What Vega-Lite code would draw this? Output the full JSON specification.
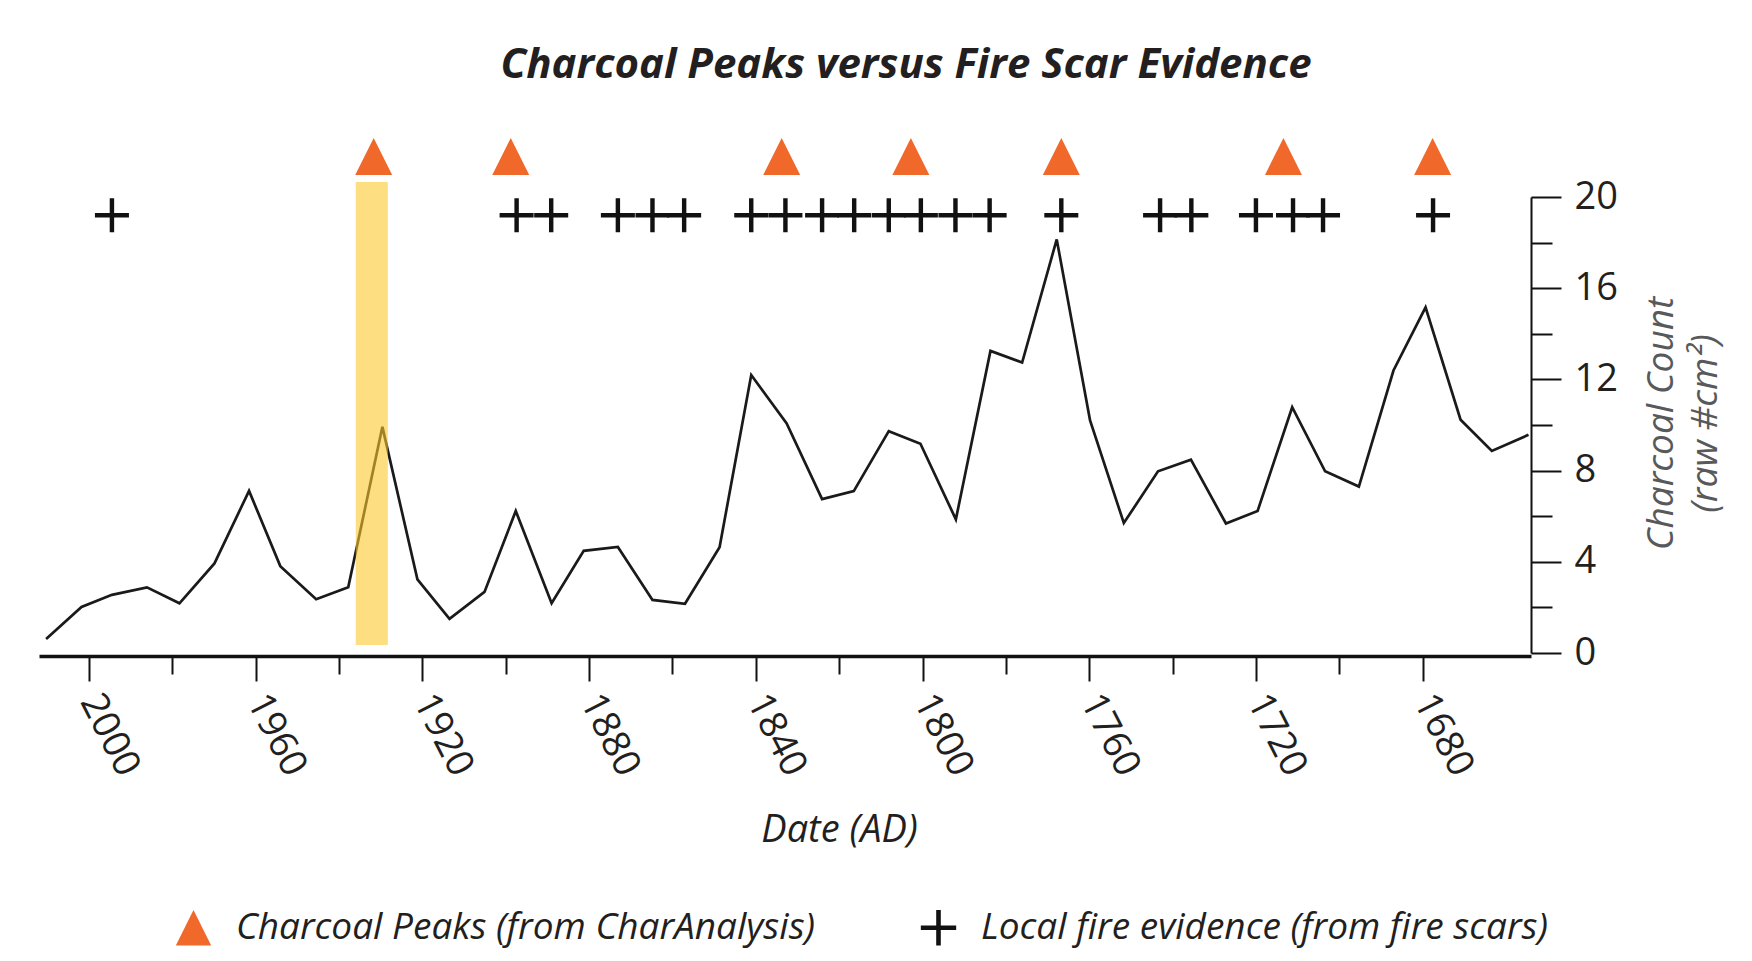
{
  "$schema": "https://vega.github.io/schema/vega-lite/v6.json",
  "width": 1492,
  "height": 456,
  "autosize": {"type": "none"},
  "padding": {"left": 39, "top": 197, "right": 221, "bottom": 308},
  "background": "white",
  "config": {
    "view": {"stroke": null},
    "font": "Open Sans"
  },
  "title": {
    "text": "Charcoal Peaks versus Fire Scar Evidence",
    "font": "Open Sans",
    "fontSize": 42,
    "fontWeight": "bold",
    "fontStyle": "italic",
    "color": "#231F20",
    "anchor": "middle",
    "dx": 121,
    "offset": 51
  },
  "datasets": {
    "series": [
      {"year": 2010.3, "count": 0.61},
      {"year": 2001.8, "count": 2.02},
      {"year": 1994.5, "count": 2.55},
      {"year": 1986.1, "count": 2.88},
      {"year": 1978.3, "count": 2.18},
      {"year": 1969.9, "count": 3.93},
      {"year": 1961.6, "count": 7.11},
      {"year": 1954.1, "count": 3.81},
      {"year": 1945.5, "count": 2.36},
      {"year": 1937.8, "count": 2.88},
      {"year": 1929.6, "count": 9.92},
      {"year": 1921.2, "count": 3.23},
      {"year": 1913.5, "count": 1.5},
      {"year": 1905.1, "count": 2.68},
      {"year": 1897.6, "count": 6.23},
      {"year": 1889.0, "count": 2.18},
      {"year": 1881.3, "count": 4.48},
      {"year": 1873.1, "count": 4.65},
      {"year": 1864.8, "count": 2.33},
      {"year": 1857.0, "count": 2.16},
      {"year": 1848.7, "count": 4.64},
      {"year": 1841.1, "count": 12.19},
      {"year": 1832.6, "count": 10.07},
      {"year": 1824.1, "count": 6.75},
      {"year": 1816.5, "count": 7.1},
      {"year": 1808.1, "count": 9.73},
      {"year": 1800.5, "count": 9.18},
      {"year": 1792.0, "count": 5.86},
      {"year": 1783.7, "count": 13.25},
      {"year": 1776.1, "count": 12.74},
      {"year": 1767.8, "count": 18.14},
      {"year": 1759.8, "count": 10.2},
      {"year": 1751.7, "count": 5.7},
      {"year": 1743.5, "count": 7.97},
      {"year": 1735.6, "count": 8.48},
      {"year": 1727.2, "count": 5.68},
      {"year": 1719.6, "count": 6.23},
      {"year": 1711.3, "count": 10.78},
      {"year": 1703.4, "count": 7.97},
      {"year": 1695.3, "count": 7.3},
      {"year": 1687.0, "count": 12.39},
      {"year": 1679.3, "count": 15.16},
      {"year": 1670.9, "count": 10.23},
      {"year": 1663.4, "count": 8.86},
      {"year": 1654.6, "count": 9.57}
    ],
    "peaks": [
      {"year": 1931.7, "kind": "Charcoal Peaks (from CharAnalysis)"},
      {"year": 1898.8, "kind": "Charcoal Peaks (from CharAnalysis)"},
      {"year": 1833.8, "kind": "Charcoal Peaks (from CharAnalysis)"},
      {"year": 1802.8, "kind": "Charcoal Peaks (from CharAnalysis)"},
      {"year": 1766.7, "kind": "Charcoal Peaks (from CharAnalysis)"},
      {"year": 1713.4, "kind": "Charcoal Peaks (from CharAnalysis)"},
      {"year": 1677.6, "kind": "Charcoal Peaks (from CharAnalysis)"}
    ],
    "scars": [
      {"year": 1994.5, "kind": "Local fire evidence (from fire scars)"},
      {"year": 1897.4, "kind": "Local fire evidence (from fire scars)"},
      {"year": 1889.1, "kind": "Local fire evidence (from fire scars)"},
      {"year": 1873.1, "kind": "Local fire evidence (from fire scars)"},
      {"year": 1864.8, "kind": "Local fire evidence (from fire scars)"},
      {"year": 1857.2, "kind": "Local fire evidence (from fire scars)"},
      {"year": 1841.1, "kind": "Local fire evidence (from fire scars)"},
      {"year": 1832.9, "kind": "Local fire evidence (from fire scars)"},
      {"year": 1824.1, "kind": "Local fire evidence (from fire scars)"},
      {"year": 1816.4, "kind": "Local fire evidence (from fire scars)"},
      {"year": 1808.1, "kind": "Local fire evidence (from fire scars)"},
      {"year": 1800.4, "kind": "Local fire evidence (from fire scars)"},
      {"year": 1792.1, "kind": "Local fire evidence (from fire scars)"},
      {"year": 1783.9, "kind": "Local fire evidence (from fire scars)"},
      {"year": 1766.7, "kind": "Local fire evidence (from fire scars)"},
      {"year": 1743.0, "kind": "Local fire evidence (from fire scars)"},
      {"year": 1735.5, "kind": "Local fire evidence (from fire scars)"},
      {"year": 1720.0, "kind": "Local fire evidence (from fire scars)"},
      {"year": 1711.1, "kind": "Local fire evidence (from fire scars)"},
      {"year": 1703.9, "kind": "Local fire evidence (from fire scars)"},
      {"year": 1677.5, "kind": "Local fire evidence (from fire scars)"}
    ],
    "band": [
      {"start": 1936.0, "end": 1928.3}
    ]
  },
  "layer": [
    {
      "data": {"name": "series"},
      "mark": {"type": "line", "color": "#1a1a1a", "strokeWidth": 2.7, "strokeJoin": "miter"},
      "encoding": {
        "x": {
          "field": "year",
          "type": "quantitative",
          "scale": {"domain": [1654, 2012], "reverse": true, "nice": false, "zero": false},
          "axis": {
            "orient": "bottom",
            "values": [1680, 1700, 1720, 1740, 1760, 1780, 1800, 1820, 1840, 1860, 1880, 1900, 1920, 1940, 1960, 1980, 2000],
            "format": "d",
            "labelExpr": "datum.value % 40 == 0 ? datum.label : ''",
            "grid": false,
            "domainColor": "#111111",
            "domainWidth": 3.5,
            "offset": 3,
            "tickColor": "#111111",
            "tickWidth": 2,
            "tickSize": {"condition": {"test": "datum.value % 40 == 0", "value": 25}, "value": 18},
            "labelFont": "Open Sans",
            "labelFontSize": 38,
            "labelColor": "#231F20",
            "labelAngle": 63,
            "labelAlign": "left",
            "labelBaseline": "middle",
            "labelPadding": 15,
            "labelFlush": false,
            "labelOverlap": false,
            "title": "Date (AD)",
            "titleFont": "Open Sans",
            "titleFontSize": 38,
            "titleFontStyle": "italic",
            "titleFontWeight": "normal",
            "titleColor": "#231F20",
            "titleX": 800,
            "titleY": 174,
            "titleAlign": "center",
            "titleBaseline": "middle"
          }
        },
        "y": {
          "field": "count",
          "type": "quantitative",
          "scale": {"domain": [0, 20], "nice": false, "zero": true},
          "axis": {
            "orient": "right",
            "values": [0, 2, 4, 6, 8, 10, 12, 14, 16, 18, 20],
            "labelExpr": "datum.value % 4 == 0 ? datum.label : ''",
            "grid": false,
            "domainColor": "#111111",
            "domainWidth": 2,
            "tickColor": "#111111",
            "tickWidth": 2,
            "tickSize": {"condition": {"test": "datum.value % 4 == 0", "value": 30}, "value": 21},
            "labelFont": "Open Sans",
            "labelFontSize": 38,
            "labelColor": "#231F20",
            "labelPadding": 13,
            "labelFlush": false,
            "labelOverlap": false,
            "title": ["Charcoal Count", "(raw #cm²)"],
            "titleFont": "Open Sans",
            "titleFontSize": 37,
            "titleFontStyle": "italic",
            "titleFontWeight": "normal",
            "titleColor": "#58595B",
            "titleAngle": 270,
            "titleX": 130,
            "titleY": 226,
            "titleAlign": "center",
            "titleBaseline": "middle",
            "titleLineHeight": 44
          }
        }
      }
    },
    {
      "data": {"name": "band"},
      "mark": {"type": "rect", "color": "#FCCA2F", "opacity": 0.6},
      "encoding": {
        "x": {"field": "start", "type": "quantitative"},
        "x2": {"field": "end"},
        "y": {"datum": 0.35},
        "y2": {"datum": 20.66}
      }
    },
    {
      "data": {"name": "peaks"},
      "mark": {"type": "point", "filled": true, "opacity": 1, "size": 1369, "strokeWidth": 0},
      "encoding": {
        "x": {"field": "year", "type": "quantitative"},
        "y": {"datum": 21.78},
        "color": {
          "field": "kind",
          "type": "nominal",
          "scale": {
            "domain": ["Charcoal Peaks (from CharAnalysis)", "Local fire evidence (from fire scars)"],
            "range": ["#F1692A", "#111111"]
          },
          "legend": {
            "orient": "none",
            "legendX": 136,
            "legendY": 712,
            "direction": "horizontal",
            "title": null,
            "padding": 0,
            "labelFont": "Open Sans",
            "labelFontSize": 37,
            "labelFontStyle": "italic",
            "labelColor": "#231F20",
            "labelLimit": 0,
            "labelOffset": 24,
            "symbolSize": 1250,
            "symbolStrokeWidth": 0,
            "columnPadding": 104
          }
        },
        "shape": {
          "field": "kind",
          "type": "nominal",
          "scale": {
            "domain": ["Charcoal Peaks (from CharAnalysis)", "Local fire evidence (from fire scars)"],
            "range": ["M0,-1L1,1L-1,1Z", "M-1,-0.13H-0.13V-1H0.13V-0.13H1V0.13H0.13V1H-0.13V0.13H-1Z"]
          },
          "legend": {
            "orient": "none",
            "legendX": 136,
            "legendY": 712,
            "direction": "horizontal",
            "title": null,
            "padding": 0,
            "labelFont": "Open Sans",
            "labelFontSize": 37,
            "labelFontStyle": "italic",
            "labelColor": "#231F20",
            "labelLimit": 0,
            "labelOffset": 24,
            "symbolSize": 1250,
            "symbolStrokeWidth": 0,
            "columnPadding": 104
          }
        }
      }
    },
    {
      "data": {"name": "scars"},
      "mark": {"type": "point", "filled": true, "opacity": 1, "size": 1156, "strokeWidth": 0},
      "encoding": {
        "x": {"field": "year", "type": "quantitative"},
        "y": {"datum": 19.2},
        "color": {"field": "kind", "type": "nominal"},
        "shape": {"field": "kind", "type": "nominal"}
      }
    }
  ]
}
